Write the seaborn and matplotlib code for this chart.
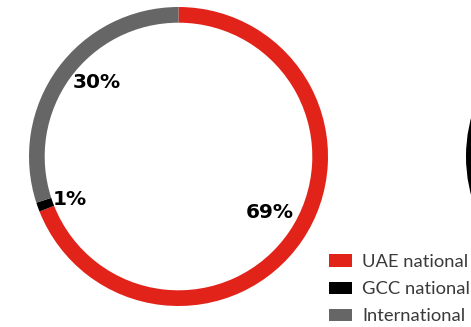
import matplotlib
matplotlib.use("Agg")
import matplotlib.pyplot as plt
from matplotlib.patches import Patch
import seaborn as sns

# Workforce composition by nationality
categories = ["UAE national", "GCC national", "International"]
shares = [69, 1, 30]
palette = sns.color_palette(["#E2231A", "#000000", "#666666"])

# Neighbouring ring, only its left edge falls inside the canvas
next_ring_share = [100]
next_ring_colors = ["#000000"]

sns.set_theme(style="white")
plt.rcParams["font.family"] = ["DejaVu Sans"]

W, H = 471, 327
fig = plt.figure(figsize=(W / 100, H / 100), dpi=100)
fig.patch.set_facecolor("white")

ring_px = 299
ax = fig.add_axes([29 / W, (H - 306) / H, ring_px / W, ring_px / H])
wedges, _, autotexts = ax.pie(
    shares,
    colors=palette,
    startangle=90,
    counterclock=False,
    radius=1.0,
    wedgeprops=dict(width=0.105, linewidth=0),
    autopct=lambda p: f"{p:.0f}%",
    pctdistance=0.74,
    textprops=dict(fontsize=14.5, fontweight="bold", color="black"),
)
# nudge the small labels so they sit clear of the ring
label_pos = [(0.612, -0.375), (-0.726, -0.288), (-0.548, 0.492)]
for t, pos in zip(autotexts, label_pos):
    t.set_position(pos)
ax.set_xlim(-1, 1)
ax.set_ylim(-1, 1)
ax.axis("off")

ax2 = fig.add_axes([466 / W, (H - 306) / H, ring_px / W, ring_px / H])
ax2.pie(next_ring_share, colors=next_ring_colors, startangle=90,
        counterclock=False, wedgeprops=dict(width=0.105, linewidth=0))
ax2.set_xlim(-1, 1)
ax2.set_ylim(-1, 1)
ax2.axis("off")

handles = [Patch(facecolor=c, edgecolor="none") for c in palette]
leg = fig.legend(
    handles, categories,
    loc="upper left",
    bbox_to_anchor=(329 / W, 1 - 254 / H),
    frameon=False,
    handlelength=1.26,
    handleheight=0.66,
    handletextpad=0.55,
    labelspacing=0.61,
    borderpad=0,
    borderaxespad=0,
    prop=dict(family=["Lato", "DejaVu Sans"], size=13.2),
    labelcolor="#3a3a3a",
)

fig.savefig("out.png", dpi=100, facecolor="white")
